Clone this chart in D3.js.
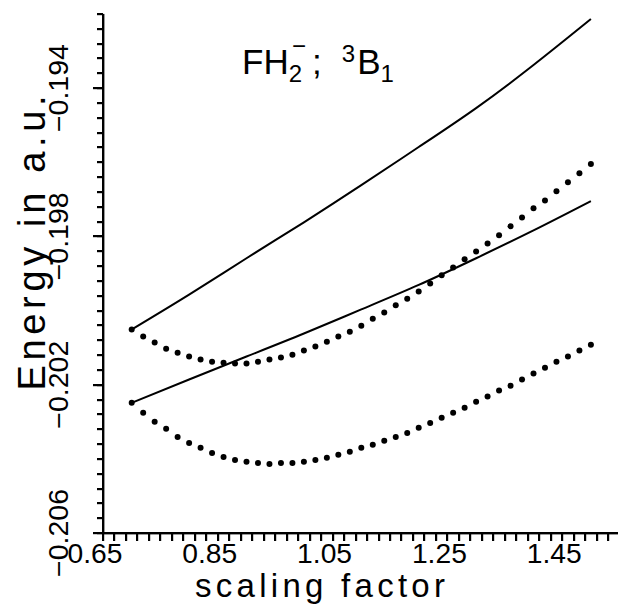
<!DOCTYPE html>
<html>
<head>
<meta charset="utf-8">
<script src="https://cdn.jsdelivr.net/npm/d3@7"></script>
<style>
  body { margin: 0; background: #fff; }
  text { font-family: "Liberation Sans", Arial, sans-serif; fill: #000; }
</style>
</head>
<body>
<div id="chart"></div>
<script>
'use strict';

// solid curves, sampled every 0.1
var xSolid = [0.70, 0.80, 0.90, 1.00, 1.10, 1.20, 1.30, 1.40, 1.50];
var upperSolid = [-0.20051, -0.19957, -0.19859, -0.19762, -0.19662, -0.19559, -0.19454, -0.19338, -0.19214];
var lowerSolid = [-0.20249, -0.20186, -0.20124, -0.20062, -0.19997, -0.19931, -0.19859, -0.19784, -0.19705];

// dotted curves, one dot per 0.02
var xDots = [0.70, 0.72, 0.74, 0.76, 0.78, 0.80, 0.82, 0.84, 0.86, 0.88,
             0.90, 0.92, 0.94, 0.96, 0.98, 1.00, 1.02, 1.04, 1.06, 1.08,
             1.10, 1.12, 1.14, 1.16, 1.18, 1.20, 1.22, 1.24, 1.26, 1.28,
             1.30, 1.32, 1.34, 1.36, 1.38, 1.40, 1.42, 1.44, 1.46, 1.48, 1.50];
var upperDots = [-0.20051, -0.20070, -0.20086, -0.20103, -0.20114, -0.20124, -0.20132, -0.20138, -0.20141, -0.20143,
                 -0.20143, -0.20138, -0.20132, -0.20127, -0.20119, -0.20108, -0.20097, -0.20084, -0.20070, -0.20057,
                 -0.20041, -0.20022, -0.20005, -0.19986, -0.19968, -0.19949, -0.19927, -0.19905, -0.19884, -0.19862,
                 -0.19841, -0.19819, -0.19797, -0.19773, -0.19749, -0.19724, -0.19703, -0.19678, -0.19654, -0.19630, -0.19605];
var lowerDots = [-0.20249, -0.20276, -0.20300, -0.20319, -0.20341, -0.20357, -0.20370, -0.20384, -0.20395, -0.20403,
                 -0.20408, -0.20411, -0.20414, -0.20411, -0.20411, -0.20408, -0.20403, -0.20397, -0.20389, -0.20381,
                 -0.20370, -0.20362, -0.20351, -0.20341, -0.20330, -0.20316, -0.20303, -0.20289, -0.20276, -0.20262,
                 -0.20246, -0.20232, -0.20216, -0.20203, -0.20186, -0.20170, -0.20154, -0.20138, -0.20124, -0.20108, -0.20092];

var xTickLabels = [0.65, 0.85, 1.05, 1.25, 1.45];
var yTickLabels = [-0.194, -0.198, -0.202, -0.206];

var width = 618;
var height = 606;

var svg = d3.select('#chart')
    .append('svg')
    .attr('width', width)
    .attr('height', height);

var x = d3.scaleLinear().domain([0.65, 1.55]).range([103, 619.6]);
var y = d3.scaleLinear().domain([-0.206, -0.192]).range([533, 13.9]);

// minor tick positions
var xMinor = d3.range(0, 46).map(function(i) { return 0.65 + i * 0.02; });
var yMinor = d3.range(0, 36).map(function(i) { return -0.206 + i * 0.0004; });

// x axis: line + downward ticks
var xAxis = svg.append('g').attr('transform', 'translate(0,533)');
xAxis.append('rect')
    .attr('x', 102).attr('y', -1)
    .attr('width', x(1.55) - 102).attr('height', 2.4)
    .attr('fill', '#000');
xAxis.selectAll('.tk')
    .data(xMinor)
    .enter()
    .append('rect')
    .attr('class', 'tk')
    .attr('x', function(d) { return Math.round(x(d)) - 1; })
    .attr('y', 0)
    .attr('width', 2.2)
    .attr('height', 8)
    .attr('fill', '#000');

// y axis: line + leftward ticks, longer at labelled values
var yAxis = svg.append('g').attr('transform', 'translate(103,0)');
yAxis.append('rect')
    .attr('x', -1).attr('y', y(-0.192))
    .attr('width', 2.4).attr('height', 534 - y(-0.192))
    .attr('fill', '#000');
yAxis.selectAll('.tk')
    .data(yMinor)
    .enter()
    .append('rect')
    .attr('class', 'tk')
    .attr('x', -6)
    .attr('y', function(d) { return Math.round(y(d)) - 1; })
    .attr('width', 6)
    .attr('height', 2.2)
    .attr('fill', '#000');
yAxis.selectAll('.major')
    .data(yTickLabels)
    .enter()
    .append('rect')
    .attr('class', 'major')
    .attr('x', -10)
    .attr('y', function(d) { return Math.round(y(d)) - 1; })
    .attr('width', 10)
    .attr('height', 2.2)
    .attr('fill', '#000');

// tick labels
svg.selectAll('.xlab')
    .data(xTickLabels)
    .enter()
    .append('text')
    .attr('class', 'xlab')
    .attr('x', function(d) { return x(d) - 8; })
    .attr('y', 563)
    .attr('text-anchor', 'middle')
    .attr('textLength', 55)
    .attr('lengthAdjust', 'spacingAndGlyphs')
    .style('font-size', '27px')
    .text(function(d) { return d.toFixed(2); });

svg.selectAll('.ylab')
    .data(yTickLabels)
    .enter()
    .append('text')
    .attr('class', 'ylab')
    .attr('transform', function(d) { return 'translate(68,' + y(d) + ') rotate(-90)'; })
    .attr('text-anchor', 'middle')
    .attr('textLength', 88)
    .attr('lengthAdjust', 'spacingAndGlyphs')
    .style('font-size', '27px')
    .text(function(d) { return '\u2212' + Math.abs(d).toFixed(3); });

// axis titles
svg.append('text')
    .attr('x', 320)
    .attr('y', 597)
    .attr('text-anchor', 'middle')
    .attr('textLength', 250)
    .attr('lengthAdjust', 'spacing')
    .style('font-size', '33px')
    .text('scaling factor');

svg.append('text')
    .attr('transform', 'translate(45,243) rotate(-90)')
    .attr('text-anchor', 'middle')
    .attr('textLength', 295)
    .attr('lengthAdjust', 'spacing')
    .style('font-size', '38px')
    .text('Energy in a.u.');

// curves
var line = d3.line()
    .x(function(d) { return x(d[0]); })
    .y(function(d) { return y(d[1]); })
    .curve(d3.curveNatural);

[upperSolid, lowerSolid].forEach(function(series) {
    svg.append('path')
        .datum(d3.zip(xSolid, series))
        .attr('d', line)
        .attr('fill', 'none')
        .attr('stroke', '#000')
        .attr('stroke-width', 2);
});

[upperDots, lowerDots].forEach(function(series) {
    svg.append('g')
        .selectAll('circle')
        .data(d3.zip(xDots, series))
        .enter()
        .append('circle')
        .attr('cx', function(d) { return x(d[0]); })
        .attr('cy', function(d) { return y(d[1]); })
        .attr('r', 3)
        .attr('fill', '#000');
});

// title  FH2-;  3B1
var title = svg.append('text')
    .attr('x', 242)
    .attr('y', 74)
    .style('font-size', '35px');
title.append('tspan').text('FH');
title.append('tspan').attr('dy', 8).style('font-size', '24px').text('2');
title.append('tspan').attr('dx', -10).attr('dy', -28).style('font-size', '24px').text('\u2212');
title.append('tspan').attr('dx', 6).attr('dy', 20).text(';');
title.append('tspan').attr('dx', 20).attr('dy', -12).style('font-size', '24px').text('3');
title.append('tspan').attr('dx', 2).attr('dy', 12).text('B');
title.append('tspan').attr('dy', 8).style('font-size', '24px').text('1');
</script>
</body>
</html>
